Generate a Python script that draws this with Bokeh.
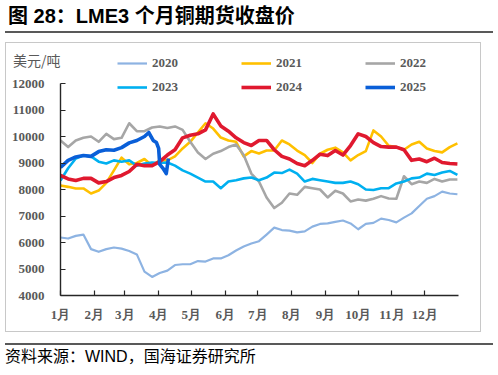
from bokeh.plotting import figure
from bokeh.models import Range1d, FixedTicker, Legend, LegendItem, Div
from bokeh.embed import file_html
from bokeh.resources import INLINE

# ---- data (weekly sampling, day of year) ----
week_days = list(range(0, 365, 7))

month_start_days = [0, 31, 59, 90, 120, 151, 181, 212, 243, 273, 304, 334]
month_labels = ["1月", "2月", "3月", "4月", "5月", "6月", "7月", "8月", "9月", "10月", "11月", "12月"]

y_ticks = [4000, 5000, 6000, 7000, 8000, 9000, 10000, 11000, 12000]

price_2020 = [6190, 6150, 6250, 6300, 5750, 5650, 5750, 5810, 5770, 5680, 5550, 4900, 4700, 4850, 4940,
              5150, 5180, 5180, 5300, 5280, 5400, 5400, 5520, 5700, 5850, 5960, 6050, 6300, 6560, 6470,
              6450, 6380, 6420, 6600, 6700, 6720, 6780, 6830, 6720, 6500, 6700, 6740, 6900, 6850, 6760,
              6940, 7100, 7380, 7650, 7750, 7920, 7850, 7820]
price_2021 = [8150, 8100, 8040, 8040, 7850, 7960, 8250, 8720, 9200, 8950, 9000, 9150, 8900, 9100, 9100,
              9250, 9550, 9800, 10150, 10500, 10300, 9960, 9850, 9800, 9250, 9450, 9360, 9470, 9470, 9850,
              9700, 9470, 9300, 9000, 9350, 9500, 9580, 9400, 9100, 9300, 9450, 10230, 10000, 9650, 9600,
              9500, 9700, 9800, 9550, 9450, 9400, 9600, 9740]
price_2022 = [9850, 9600, 9850, 9950, 10000, 9800, 10100, 9900, 9950, 10500, 10200, 10200, 10340, 10380, 10320,
              10380, 10250, 9800, 9400, 9150, 9350, 9450, 9600, 9700, 9300, 8600, 8300, 7700, 7300, 7500,
              7850, 7800, 8100, 8050, 8000, 7700, 7950, 7850, 7550, 7620, 7580, 7650, 7750, 7660, 7650,
              8500, 8200, 8300, 8250, 8400, 8300, 8380, 8380]
price_2023 = [8340, 8800, 9170, 9280, 9250, 9050, 8980, 9100, 9050, 9100, 8900, 8980, 9020, 9000, 9020,
              8900, 8720, 8600, 8450, 8300, 8300, 8050, 8300, 8350, 8420, 8450, 8350, 8450, 8640, 8620,
              8750, 8600, 8300, 8400, 8350, 8300, 8250, 8250, 8300, 8200, 8000, 7980, 8050, 8050, 8230,
              8300, 8420, 8450, 8600, 8550, 8640, 8700, 8550]
price_2024 = [8530, 8400, 8340, 8420, 8420, 8250, 8300, 8450, 8530, 8680, 8950, 8900, 8900, 9050, 9300,
              9500, 9950, 10050, 10100, 10250, 10850, 10400, 10200, 9950, 9770, 9660, 9850, 9850, 9500, 9250,
              9150, 8980, 8900, 9100, 9330, 9280, 9470, 9300, 9660, 10100, 10000, 9770, 9620, 9600, 9600,
              9500, 9100, 9150, 9050, 9180, 9020, 8980, 8960]
days_2025 = [0, 7, 14, 21, 28, 35, 42, 49, 56, 63, 70, 77, 81, 85, 88, 90, 91, 94, 97, 98, 99]
price_2025 = [8830, 9100, 9230, 9280, 9250, 9430, 9500, 9480, 9580, 9760, 9850, 10000, 10150, 9850, 9770,
              9550, 8950, 8800, 8600, 8900, 9170]

series_names = ["2020", "2021", "2022", "2023", "2024", "2025"]
series_colors = ["#8DB3E2", "#FFC000", "#A6A6A6", "#00B0F0", "#E0192F", "#0A5FD8"]
series_widths = [2.2, 2.6, 2.6, 2.6, 3.6, 3.6]

title_text = "图 28：LME3 个月铜期货收盘价"
unit_text = "美元/吨"
source_text = "资料来源：WIND，国海证券研究所"

# ---- figure ----
# frame: x 60..458, y 45..295 (canvas px); 12000 sits at y=83, axis line bounded to 4000..12000
p = figure(width=498, height=375, output_backend="svg", toolbar_location=None,
           x_range=Range1d(0, 365), y_range=Range1d(4000, 13434),
           min_border_left=60, min_border_right=40, min_border_top=45, min_border_bottom=80)
p.outline_line_color = None
p.xgrid.visible = False
p.ygrid.visible = False
p.background_fill_color = "white"
p.border_fill_color = "white"

all_x = [week_days, week_days, week_days, week_days, week_days, days_2025]
all_y = [price_2020, price_2021, price_2022, price_2023, price_2024, price_2025]
renderers = []
for xs, ys, c, w in zip(all_x, all_y, series_colors, series_widths):
    r = p.line(xs, ys, line_color=c, line_width=w, line_join="round")
    renderers.append(r)

# axes
for ax in (p.xaxis[0], p.yaxis[0]):
    ax.axis_line_color = "#262626"
    ax.axis_line_width = 1.4
    ax.major_tick_line_color = "#262626"
    ax.major_tick_line_width = 1.2
    ax.major_tick_in = 5
    ax.major_tick_out = 0
    ax.minor_tick_line_color = None
    ax.major_label_text_font = "Liberation Serif"
    ax.major_label_text_font_style = "bold"
    ax.major_label_text_font_size = "13px"
    ax.major_label_text_color = "#595959"

p.yaxis[0].ticker = FixedTicker(ticks=y_ticks)
p.yaxis[0].bounds = (y_ticks[0], y_ticks[-1])
p.yaxis[0].major_label_standoff = 16
p.xaxis[0].ticker = FixedTicker(ticks=month_start_days)
p.xaxis[0].major_label_overrides = {d: lab for d, lab in zip(month_start_days, month_labels)}
p.xaxis[0].major_label_standoff = 11

# legend
legend = Legend(items=[LegendItem(label=n, renderers=[r]) for n, r in zip(series_names, renderers)],
                location=(57, 196), orientation="horizontal", ncols=3,
                glyph_width=30, glyph_height=24, label_height=24, label_width=89,
                label_standoff=5, spacing=0, padding=0, margin=0,
                border_line_color=None, background_fill_alpha=0,
                label_text_font="Liberation Serif", label_text_font_style="bold",
                label_text_font_size="13px", label_text_color="#595959")
p.add_layout(legend, "center")


def floating(text, **css):
    st = {"position": "absolute", "white-space": "nowrap"}
    st.update({k.replace("_", "-"): v for k, v in css.items()})
    return Div(text=text, styles=st, margin=(0, 0, 0, 0))


p.elements = [
    floating(title_text, left="8px", top="4px", font_size="20px", font_weight="bold",
             font_family="'Liberation Sans', 'Noto Sans CJK SC', sans-serif", color="#000000",
             line_height="24px"),
    floating("", left="5px", top="31px", width="488px", height="2px", background_color="#595959"),
    floating("", left="5px", top="42px", width="476px", height="290px", border="1px solid #C8C8C8"),
    floating(unit_text, left="13px", top="51px", font_size="14px",
             font_family="'Noto Sans CJK SC', sans-serif", color="#595959", line_height="18px"),
    floating("", left="5px", top="343px", width="488px", height="2px", background_color="#595959"),
    floating(source_text, left="5px", top="347px", font_size="16px",
             font_family="'Liberation Sans', 'Noto Sans CJK SC', sans-serif", color="#000000",
             line_height="20px"),
]

open("out.html", "w").write(file_html(p, INLINE))
